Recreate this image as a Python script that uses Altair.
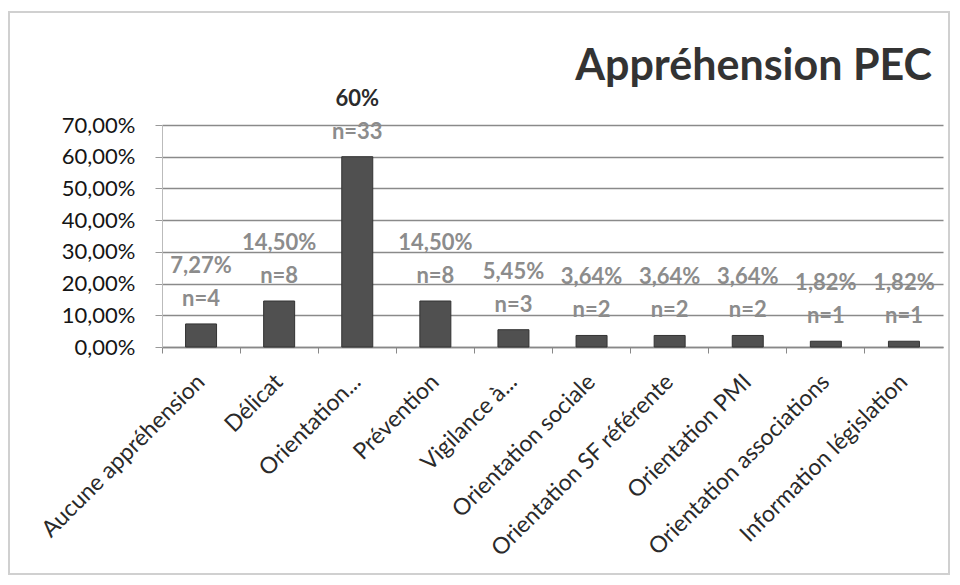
import altair as alt
import pandas as pd

categories = ["Aucune appréhension", "Délicat", "Orientation...", "Prévention",
              "Vigilance à...", "Orientation sociale", "Orientation SF référente",
              "Orientation PMI", "Orientation associations", "Information législation"]
pct_values = [7.27, 14.50, 60.0, 14.50, 5.45, 3.64, 3.64, 3.64, 1.82, 1.82]
pct_labels = ["7,27%", "14,50%", "60%", "14,50%", "5,45%", "3,64%", "3,64%", "3,64%", "1,82%", "1,82%"]
n_values = [4, 8, 33, 8, 3, 2, 2, 2, 1, 1]
y_ticks = [0, 10, 20, 30, 40, 50, 60, 70]
chart_title = "Appréhension PEC"

df = pd.DataFrame({
    "cat": categories,
    "pct": pct_values,
    "pct_label": pct_labels,
    "n_label": [f"n={n}" for n in n_values],
})

FONT = "Lato"
x = alt.X("cat:N", sort=categories, title=None,
          scale=alt.Scale(paddingInner=0, paddingOuter=0),
          axis=alt.Axis(labelAngle=-45, labelAlign="right", labelBaseline="middle",
                        labelFont=FONT, labelFontSize=23, labelColor="#2a2a2a",
                        labelPadding=25, tickSize=6, tickColor="#888", bandPosition=0,
                        domainColor="#888", domainWidth=1.5, labelLimit=400,
                        labelOverlap=False, grid=False))
y = alt.Y("pct:Q", title=None,
          scale=alt.Scale(domain=[0, 70], nice=False),
          axis=alt.Axis(values=y_ticks,
                        labelExpr="replace(format(datum.value/100, '.2%'), '.', ',')",
                        labelFont=FONT, labelFontSize=22,
                        labelColor="#151515", labelOverlap=False,
                        labelPadding=20, tickSize=7, tickColor="#999",
                        domainColor="#bbb", grid=True, gridColor="#8a8a8a", gridWidth=1.3))

base = alt.Chart(df)

bars = base.mark_bar(size=31, color="#505050", stroke="#333333", strokeWidth=1).encode(x=x, y=y)

pct_text = base.mark_text(font=FONT, fontSize=22, fontWeight="bold", dy=-58,
                          baseline="middle").encode(
    x=x, y=y,
    text="pct_label:N",
    color=alt.condition("datum.pct >= 50", alt.value("#2b2b2b"), alt.value("#8c8c8c")),
)
n_text = base.mark_text(font=FONT, fontSize=22, fontWeight="bold", dy=-25,
                        baseline="middle", color="#8c8c8c").encode(
    x=x, y=y,
    text="n_label:N",
)

deco = alt.Chart(pd.DataFrame({"t": [chart_title]}))
frame = deco.mark_rect(fill=None, stroke="#d0d0d0", strokeWidth=2).encode(
    x=alt.value(-153), x2=alt.value(787), y=alt.value(-113), y2=alt.value(449))
title = deco.mark_text(font=FONT, fontSize=43, fontWeight="bold", color="#333333",
                       align="right", baseline="alphabetic").encode(
    x=alt.value(770), y=alt.value(-45), text="t:N")

chart = alt.layer(frame, bars, pct_text, n_text, title).properties(
    width=781, height=222,
    padding={"left": 154, "top": 117, "right": 9, "bottom": 228},
    autosize=alt.AutoSizeParams(type="none"),
).configure_view(stroke=None)

chart.save("out.html", embed_options={"renderer": "svg", "actions": False})
